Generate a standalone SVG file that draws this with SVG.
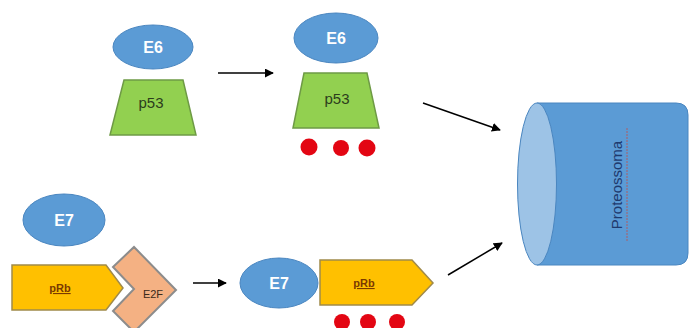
<svg xmlns="http://www.w3.org/2000/svg" width="689" height="328" viewBox="0 0 689 328">
<defs>
<style>
.ell{fill:#5b9bd5;stroke:#4a86c0;stroke-width:1}
.etxt{font-family:"Liberation Sans",Arial,sans-serif;font-size:16px;font-weight:bold;fill:#ffffff;text-anchor:middle}
.p53{fill:#92d050;stroke:#6e9a45;stroke-width:1.5}
.p53t{font-family:"Liberation Sans",Arial,sans-serif;font-size:15px;fill:#2c3d1c;text-anchor:middle}
.prb{fill:#ffc000;stroke:#a08a4a;stroke-width:1.5}
.prbt{font-family:"Liberation Sans",Arial,sans-serif;font-size:11px;font-weight:bold;fill:#7a3a00;text-anchor:middle;text-decoration:underline}
.e2f{fill:#f4b183;stroke:#8c8c8c;stroke-width:2}
.e2ft{font-family:"Liberation Sans",Arial,sans-serif;font-size:11px;fill:#3a2a1a;text-anchor:middle}
.dot{fill:#e30613}
.conn{stroke:#000;stroke-width:1.5;fill:none;marker-end:url(#ah)}
</style>
<marker id="ah" viewBox="0 0 10 10" refX="9" refY="5" markerWidth="6" markerHeight="6" orient="auto" markerUnits="strokeWidth">
<path d="M0,0 L10,5 L0,10 z" fill="#000"/>
</marker>
</defs>
<rect width="689" height="328" fill="#ffffff"/>

<g id="e6-left">
<ellipse class="ell" cx="153" cy="47" rx="40" ry="22"/>
<text class="etxt" x="153" y="53">E6</text>
</g>
<g id="p53-left">
<polygon class="p53" points="124,80 183,80 196,135 110,135"/>
<text class="p53t" x="151" y="108">p53</text>
</g>
<g id="e6-right">
<ellipse class="ell" cx="336" cy="38" rx="42" ry="25"/>
<text class="etxt" x="336" y="44">E6</text>
</g>
<g id="p53-right">
<polygon class="p53" points="304,73 367,73 379,128 293,128"/>
<text class="p53t" x="337" y="104">p53</text>
</g>
<g id="dots-top">
<circle class="dot" cx="309" cy="147" r="8.5"/>
<circle class="dot" cx="341" cy="148" r="8"/>
<circle class="dot" cx="367" cy="148" r="8.5"/>
</g>

<g id="e7-left">
<ellipse class="ell" cx="64" cy="220" rx="41" ry="26"/>
<text class="etxt" x="64" y="226">E7</text>
</g>
<g id="prb-left">
<polygon class="prb" points="12,265 106,265 123,288 106,310 12,310"/>
<text class="prbt" x="60" y="292">pRb</text>
</g>
<g id="e2f">
<polygon class="e2f" points="113,267 134,247 176,290 134,332 113,311 134,289"/>
<text class="e2ft" x="153" y="298">E2F</text>
</g>
<g id="e7-right">
<ellipse class="ell" cx="279" cy="283" rx="39" ry="25"/>
<text class="etxt" x="279" y="289">E7</text>
</g>
<g id="prb-right">
<polygon class="prb" points="320,260 412,260 433,283 412,305 320,305"/>
<text class="prbt" x="364" y="287">pRb</text>
</g>
<g id="dots-bottom">
<circle class="dot" cx="342" cy="322" r="8"/>
<circle class="dot" cx="368" cy="322" r="8"/>
<circle class="dot" cx="397" cy="322" r="8"/>
</g>

<g id="proteossoma">
<path d="M537,103 L676,103 Q688,103 688,115 L688,253 Q688,265 676,265 L537,265 Z" fill="#5b9bd5" stroke="#4a86c0" stroke-width="1"/>
<ellipse cx="537" cy="184" rx="19.5" ry="81" fill="#9dc3e6" stroke="#4a86c0" stroke-width="1"/>
<text x="0" y="0" transform="translate(622,185) rotate(-90)" font-family="Liberation Sans,Arial,sans-serif" font-size="15" fill="#1f3a6e" text-anchor="middle">Proteossoma</text>
<line x1="627" y1="128" x2="627" y2="242" stroke="#c0504d" stroke-width="1" stroke-dasharray="2,1" opacity="0.8"/>
</g>

<g id="connectors">
<line class="conn" x1="218" y1="73" x2="273" y2="73"/>
<line class="conn" x1="193" y1="283" x2="226" y2="283"/>
<line class="conn" x1="423" y1="103" x2="500" y2="130"/>
<line class="conn" x1="448" y1="275" x2="502" y2="243"/>
</g>
</svg>
